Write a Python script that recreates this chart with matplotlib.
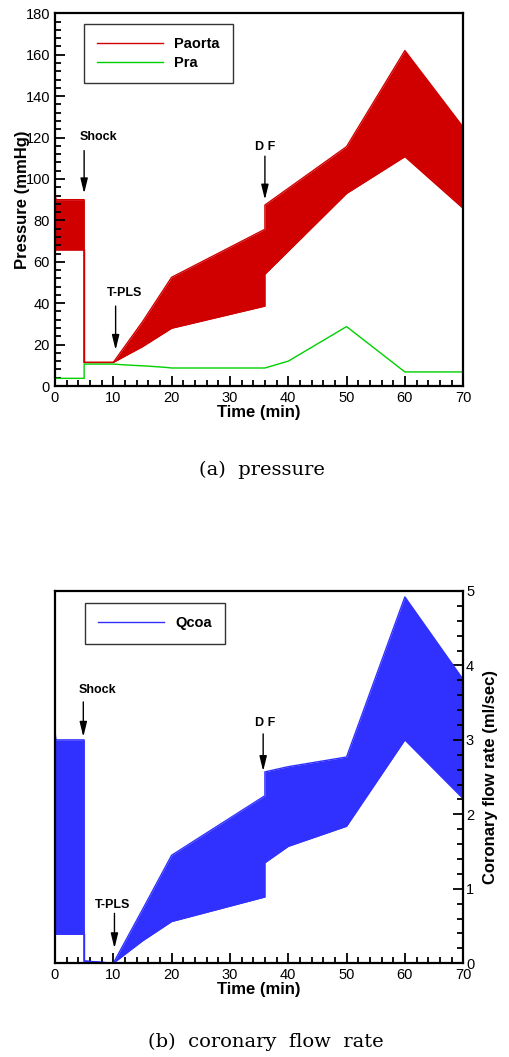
import numpy as np
import matplotlib
matplotlib.use("Agg")
import matplotlib.pyplot as plt
from matplotlib.ticker import MultipleLocator

plt.rcParams['font.family'] = ['Liberation Sans', 'DejaVu Sans']

# (a) pressure: envelope of the pulsatile aortic pressure, right atrial pressure
t_pa = [0, 0.15, 5, 5, 10, 15, 20, 36, 36, 50, 60, 70]
pa_hi = [94, 90, 90, 11.4, 11.4, 31, 52.5, 75.7, 87.4, 115.6, 162, 125]
pa_lo = [65.7, 65.7, 65.7, 11.4, 11.4, 19, 27.9, 38.6, 54, 93, 110.8, 85.8]

t_pra = [0, 5, 5, 10, 12, 16, 19, 20, 36, 40, 50, 60, 70]
pra = [3.7, 3.7, 10.6, 10.6, 10.2, 9.6, 9.0, 8.7, 8.7, 12, 28.7, 6.8, 6.8]

# (b) coronary flow envelope
t_q = [0, 0.15, 5, 5, 10, 15, 20, 36, 36, 40, 50, 60, 70]
q_hi = [3.12, 3.0, 3.0, 0.03, 0.0, 0.72, 1.45, 2.25, 2.57, 2.64, 2.77, 4.92, 3.81]
q_lo = [0.39, 0.39, 0.39, 0.03, 0.0, 0.30, 0.56, 0.89, 1.35, 1.57, 1.84, 3.0, 2.21]

red = '#D00000'
green = '#00D000'
blue = '#3030FF'

fig = plt.figure(figsize=(5.09, 10.57), dpi=100)
ax1 = fig.add_axes([0.108, 0.6348, 0.802, 0.3526])
ax2 = fig.add_axes([0.108, 0.0887, 0.802, 0.3522])


def style(ax):
    for s in ax.spines.values():
        s.set_linewidth(1.6)
    ax.set_xlim(0, 70)
    ax.xaxis.set_major_locator(MultipleLocator(10))
    ax.xaxis.set_minor_locator(MultipleLocator(2))
    ax.tick_params(which='both', direction='in', width=1.3, labelsize=10.5)
    ax.tick_params(which='major', length=7.5)
    ax.tick_params(which='minor', length=4)
    ax.set_xlabel('Time (min)', fontsize=12, fontweight='bold', labelpad=0)


def arrow(ax, x, y0, y1, label, ty, tx):
    ax.annotate('', xy=(x, y1), xytext=(x, y0),
                arrowprops=dict(arrowstyle='-|>,head_width=0.22,head_length=0.9',
                                color='k', lw=1.0, shrinkA=0, shrinkB=0))
    ax.text(tx, ty, label, ha='center', va='center', fontsize=9,
            fontweight='bold')


def legend(ax, anchor):
    leg = ax.legend(loc='upper left', bbox_to_anchor=anchor, borderaxespad=0,
                    frameon=True, fancybox=False, edgecolor='k', handlelength=4.5,
                    prop={'weight': 'bold', 'size': 10.5}, borderpad=0.9,
                    handletextpad=0.8, labelspacing=0.35)
    leg.get_frame().set_linewidth(1.0)
    leg.set_zorder(5)


# top
ax1.fill_between(t_pa, pa_lo, pa_hi, color=red, lw=0)
ax1.plot(t_pa, pa_hi, color=red, lw=1, label='Paorta')
ax1.plot(t_pa, pa_lo, color=red, lw=1)
ax1.plot([5, 5], [pa_lo[2], pa_hi[3]], color=red, lw=1)
ax1.plot(t_pra, pra, color=green, lw=1, label='Pra')
style(ax1)
ax1.set_ylim(0, 180)
ax1.yaxis.set_major_locator(MultipleLocator(20))
ax1.yaxis.set_minor_locator(MultipleLocator(4))
ax1.set_ylabel('Pressure (mmHg)', fontsize=12, fontweight='bold', labelpad=-3)
legend(ax1, (0.071, 0.971))
arrow(ax1, 5, 113.7, 93, 'Shock', 120.3, 7.4)
arrow(ax1, 10.4, 38.6, 17.4, 'T-PLS', 44.8, 12.0)
arrow(ax1, 36.0, 111, 90, 'D F', 115.6, 36.1)
fig.text(0.515, 0.555, '(a)  pressure', ha='center', va='center',
         family='DejaVu Serif', fontsize=14)

# bottom
ax2.fill_between(t_q, q_lo, q_hi, color=blue, lw=0)
ax2.plot(t_q, q_hi, color=blue, lw=1, label='Qcoa')
ax2.plot(t_q, q_lo, color=blue, lw=1)
ax2.plot([5, 5], [q_lo[2], q_hi[3]], color=blue, lw=1)
style(ax2)
ax2.set_ylim(0, 5)
ax2.yaxis.tick_right()
ax2.yaxis.set_label_position('right')
ax2.yaxis.set_major_locator(MultipleLocator(1))
ax2.yaxis.set_minor_locator(MultipleLocator(0.2))
ax2.tick_params(axis='y', which='both', right=True, left=False, pad=2)
ax2.set_ylabel('Coronary flow rate (ml/sec)', fontsize=12, fontweight='bold',
               labelpad=6)
legend(ax2, (0.074, 0.967))
arrow(ax2, 4.86, 3.51, 3.04, 'Shock', 3.67, 7.3)
arrow(ax2, 10.2, 0.67, 0.2, 'T-PLS', 0.78, 9.9)
arrow(ax2, 35.7, 3.08, 2.58, 'D F', 3.22, 36.1)
fig.text(0.522, 0.0142, '(b)  coronary  flow  rate', ha='center', va='center',
         family='DejaVu Serif', fontsize=14)

fig.savefig('out.png', dpi=100)
